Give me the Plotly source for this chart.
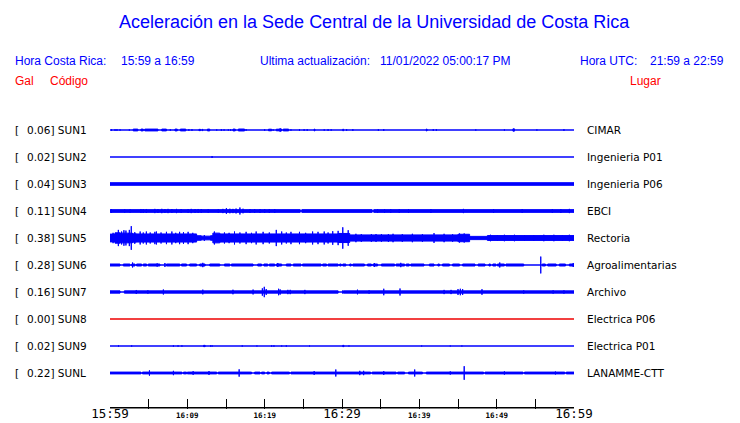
import plotly.graph_objects as go

# ---------------- data ----------------
STATIONS = ["SUN1", "SUN2", "SUN3", "SUN4", "SUN5", "SUN6", "SUN7", "SUN8", "SUN9", "SUNL"]
PEAK_GAL = [0.06, 0.02, 0.04, 0.11, 0.38, 0.28, 0.16, 0.00, 0.02, 0.22]
PLACES = ["CIMAR", "Ingenieria P01", "Ingenieria P06", "EBCI", "Rectoria",
          "Agroalimentarias", "Archivo", "Electrica P06", "Electrica P01", "LANAMME-CTT"]
TICK_MIN = list(range(0, 61, 5))
TICK_LABELS = ["15:59", "", "16:09", "", "16:19", "", "16:29", "", "16:39", "", "16:49", "", "16:59"]
BIG_TICKS = ["15:59", "16:29", "16:59"]

# segments of each trace: (start minute, end minute, half amplitude in gal)
SUN1_SEG = [(0.2, 0.2, .025), (0.65, 0.65, .025), (0.9, 0.9, .025), (1.3, 1.3, .02), (2.5, 2.5, .02),
            (3.0, 3.6, .028), (4.0, 4.3, .028), (4.5, 6.2, .028), (6.7, 7.3, .028), (7.8, 7.8, .025),
            (8.4, 8.7, .028), (9.1, 9.8, .028), (10.2, 10.2, .025), (10.6, 10.6, .025), (11.5, 11.7, .02),
            (11.9, 12.0, .02), (12.6, 12.9, .028), (13.8, 13.8, .02), (14.4, 14.4, .025), (14.75, 14.75, .02),
            (15.3, 15.3, .02), (15.6, 15.6, .025), (15.9, 16.2, .028), (16.6, 17.4, .03), (17.6, 17.6, .025),
            (20.0, 20.0, .025), (20.5, 20.9, .025), (21.1, 21.1, .02), (21.5, 21.9, .025), (22.0, 22.0, .06),
            (22.1, 22.2, .03), (22.4, 23.1, .028), (23.4, 23.4, .02), (24.5, 24.5, .025), (25.1, 25.1, .025),
            (25.5, 25.5, .025), (26.4, 26.5, .028), (27.7, 27.7, .02), (28.2, 28.2, .025), (28.6, 28.6, .02),
            (30.1, 30.2, .025), (30.6, 30.6, .025), (31.4, 31.4, .025), (34.7, 34.7, .025), (35.4, 35.4, .025),
            (40.9, 41.0, .03), (41.8, 41.8, .025), (42.2, 42.2, .025), (47.3, 47.3, .02), (51.0, 51.0, .02),
            (52.1, 52.3, .036), (55.2, 55.2, .02), (58.7, 58.7, .025)]
SUN2_SEG = [(13.2, 13.2, .03)]
SUN3_SEG = [(0, 60, .04)]
SUN4_SEG = [(0, 24.6, .042), (24.8, 33.9, .042), (34.1, 60, .042),
            (0.2, 0.2, .057), (1.9, 1.9, .05), (2.6, 2.6, .05), (4.0, 4.0, .062), (4.3, 4.3, .06),
            (4.7, 4.7, .062), (5.8, 5.8, .065), (6.2, 6.2, .06), (6.7, 6.7, .067), (7.1, 7.1, .06),
            (7.5, 7.5, .065), (8.0, 8.0, .06), (8.6, 8.6, .065), (9.2, 9.2, .06), (10.1, 10.1, .06),
            (10.5, 10.5, .065), (11.0, 11.0, .06), (11.4, 11.4, .062), (11.8, 11.8, .06), (12.7, 12.7, .055),
            (14.0, 14.0, .055), (14.6, 14.6, .065), (15.05, 15.05, .087), (15.5, 15.5, .07), (15.9, 15.9, .065),
            (16.3, 16.3, .075), (16.8, 16.8, .108), (17.2, 17.2, .07), (18.1, 18.1, .06), (18.7, 18.7, .06),
            (19.4, 19.4, .06), (20.0, 20.0, .06), (20.6, 20.6, .06), (21.3, 21.3, .06), (34.6, 34.6, .055),
            (35.5, 35.5, .055), (36.3, 36.3, .055), (37.4, 37.4, .055), (38.6, 38.6, .06), (41.5, 41.5, .06),
            (45.7, 45.7, .065), (49.6, 49.6, .06), (53.3, 53.3, .06), (57.2, 57.2, .06), (58.3, 58.3, .06),
            (59.4, 59.4, .065)]
SUN5_SEG = [(0, 0.65, .12), (0.65, 1.3, .16), (1.3, 2.4, .15), (2.4, 2.9, .15), (2.9, 3.4, .13),
            (3.4, 11.2, .125), (11.2, 11.8, .07), (11.8, 13.0, .057), (13.0, 13.3, .07), (13.3, 14.2, .15),
            (14.2, 29.5, .125), (29.5, 31.0, .14), (31.0, 45.0, .095), (45.0, 46.5, .115), (46.5, 48.8, .05),
            (48.8, 60, .075),
            (0.4, 0.4, .16), (1.08, 1.08, .25), (1.5, 1.5, .2), (1.8, 1.8, .24), (2.06, 2.06, .23),
            (2.5, 2.5, .25), (2.75, 2.75, .365), (3.2, 3.2, .18), (3.9, 3.9, .2), (4.3, 4.3, .17),
            (4.7, 4.7, .2), (5.2, 5.2, .17), (5.8, 5.8, .19), (6.0, 6.0, .2), (6.6, 6.6, .17), (7.3, 7.3, .19),
            (8.0, 8.0, .2), (8.5, 8.5, .16), (9.0, 9.0, .19), (9.5, 9.5, .18), (10.1, 10.1, .19),
            (10.7, 10.7, .16), (12.2, 12.2, .09), (13.5, 13.5, .2), (14.8, 14.8, .17), (15.4, 15.4, .16),
            (16.1, 16.1, .2), (16.8, 16.8, .17), (17.6, 17.6, .19), (18.3, 18.3, .16), (18.9, 18.9, .2),
            (19.8, 19.8, .19), (20.6, 20.6, .17), (21.5, 21.5, .25), (22.2, 22.2, .2), (22.8, 22.8, .17),
            (23.4, 23.4, .19), (24.5, 24.5, .19), (25.3, 25.3, .16), (26.2, 26.2, .2), (26.9, 26.9, .19),
            (27.7, 27.7, .2), (28.2, 28.2, .17), (28.8, 28.8, .21), (29.5, 29.5, .22), (30.1, 30.1, .33),
            (30.8, 30.8, .24), (31.8, 31.8, .13), (32.5, 32.5, .12), (33.8, 33.8, .12), (34.4, 34.4, .12),
            (35.1, 35.1, .12), (36.0, 36.0, .12), (36.6, 36.6, .13), (37.8, 37.8, .12), (39.1, 39.1, .13),
            (40.4, 40.4, .12), (41.9, 41.9, .15), (43.2, 43.2, .13), (44.3, 44.3, .12), (45.2, 45.2, .14),
            (45.8, 45.8, .14), (49.2, 49.2, .10), (50.1, 50.1, .09), (51.0, 51.0, .10), (52.3, 52.3, .10),
            (53.6, 53.6, .09), (54.8, 54.8, .09), (56.1, 56.1, .10), (57.4, 57.4, .10), (58.5, 58.5, .09),
            (59.4, 59.4, .10)]
SUN6_SEG = [(0, 1.29, .031), (1.72, 2.58, .031), (2.8, 3.23, .031), (3.44, 4.09, .031), (4.3, 4.73, .031),
            (4.95, 6.45, .031), (7.3, 9.03, .031), (9.25, 9.9, .031), (10.3, 11.2, .031), (11.6, 12.3, .031),
            (12.9, 14.2, .031), (14.8, 15.5, .031), (15.7, 18.5, .031), (19.1, 19.6, .031), (19.9, 20.4, .031),
            (20.6, 21.3, .031), (21.5, 22.2, .031), (22.8, 23.4, .031), (23.7, 24.7, .031), (24.9, 27.3, .031),
            (27.5, 28.0, .031), (28.2, 29.5, .031), (29.7, 29.9, .031), (30.1, 30.5, .031), (31.0, 31.2, .031),
            (31.4, 32.9, .031), (33.3, 33.8, .031), (34.0, 34.6, .031), (35.1, 36.8, .031), (37.0, 38.1, .031),
            (38.3, 38.7, .031), (38.9, 40.6, .031), (41.3, 41.9, .031), (42.4, 42.6, .031), (43.0, 43.9, .031),
            (44.3, 45.2, .031), (45.6, 47.2, .031), (47.6, 48.5, .031), (49.0, 49.2, .031), (49.5, 49.9, .031),
            (50.1, 51.0, .031), (51.2, 53.5, .031), (55.9, 56.3, .031), (56.6, 57.7, .031), (58.1, 58.9, .031),
            (59.4, 60, .031),
            (2.92, 2.92, .077), (6.1, 6.1, .05), (7.1, 7.1, .062), (12.0, 12.0, .067), (21.7, 21.7, .062),
            (34.2, 34.2, .057), (37.6, 37.6, .067), (50.4, 50.4, .077), (55.7, 55.7, .26), (59.9, 59.9, .062)]
SUN7_SEG = [(0, 1.3, .035), (1.85, 29.5, .035), (30.2, 60, .035),
            (3.4, 3.4, .062), (4.9, 4.9, .05), (6.9, 6.9, .077), (12.0, 12.0, .072), (15.9, 15.9, .07),
            (18.5, 18.5, .075), (19.7, 19.7, .113), (19.95, 19.95, .16), (20.2, 20.2, .09), (21.8, 21.8, .10),
            (22.0, 22.0, .08), (23.0, 23.0, .067), (23.3, 23.3, .067), (25.2, 25.2, .065), (30.1, 30.1, .05),
            (32.0, 32.0, .072), (33.5, 33.5, .05), (35.4, 35.4, .10), (37.5, 37.5, .108), (43.2, 43.2, .065),
            (44.1, 44.1, .065), (45.0, 45.0, .09), (45.3, 45.3, .10), (45.6, 45.6, .09), (48.1, 48.1, .086),
            (53.5, 53.5, .05), (57.3, 57.3, .05), (58.7, 58.7, .05)]
SUN8_SEG = []
SUN9_SEG = [(1.1, 1.1, .02), (2.8, 2.8, .02), (8.2, 8.2, .02), (8.8, 8.8, .02), (9.3, 9.3, .02),
            (12.1, 12.3, .02), (13.0, 13.0, .02), (13.2, 13.2, .02), (17.1, 17.1, .02), (19.0, 19.0, .015),
            (20.9, 20.9, .02), (21.2, 21.2, .02), (22.2, 22.2, .015), (22.8, 22.8, .02), (25.8, 25.8, .015),
            (30.1, 30.25, .02), (30.9, 30.9, .015), (40.3, 40.3, .015), (44.0, 44.0, .015), (45.5, 45.5, .015)]
SUNL_SEG = [(0, 4.0, .028), (4.2, 9.3, .028), (9.5, 9.9, .028), (10.0, 13.8, .028), (14.0, 18.3, .028),
            (18.7, 19.4, .028), (19.6, 20.0, .028), (20.3, 20.6, .028), (20.9, 23.2, .028), (23.4, 33.7, .028),
            (33.9, 37.0, .028), (37.2, 38.1, .028), (38.6, 40.4, .028), (40.9, 48.3, .028), (48.5, 53.4, .028),
            (53.6, 58.8, .028), (59.0, 60, .028),
            (5.1, 5.1, .082), (8.2, 8.2, .067), (10.75, 10.75, .057), (12.8, 12.8, .06), (16.7, 16.7, .113),
            (26.4, 26.4, .057), (29.2, 29.2, .108), (32.3, 32.3, .067), (32.8, 32.8, .067), (35.4, 35.4, .057),
            (39.4, 39.4, .108), (44.0, 44.0, .05), (45.8, 45.8, .21), (51.0, 51.0, .05), (57.6, 57.6, .045)]
SEGMENTS = [SUN1_SEG, SUN2_SEG, SUN3_SEG, SUN4_SEG, SUN5_SEG, SUN6_SEG, SUN7_SEG, SUN8_SEG, SUN9_SEG, SUNL_SEG]

# ---------------- style ----------------
GAIN = 1.2          # rows per gal
BLUE = "#0000ff"
RED = "#ee0000"
W, H = 740, 423
ML, MR, MT, MB = 110, 166, 110, 14
PW, PH = W - ML - MR, H - MT - MB
N = len(STATIONS)
DX = -2             # annotation box padding compensation
Y_AXIS = -1 / 3     # bottom of the row scale


def px(x):
    return (x + DX - ML) / PW


def py(y):
    return (H - MB - y) / PH


fig = go.Figure()
for i, (name, segs) in enumerate(zip(STATIONS, SEGMENTS)):
    row = N - i
    col = RED if PEAK_GAL[i] == 0 else BLUE
    fig.add_trace(go.Scatter(x=[0, 60], y=[row, row], mode="lines",
                             line=dict(color=col, width=1.3), hoverinfo="skip", showlegend=False))
    xs, ys = [], []
    for t0, t1, a in segs:
        lo, hi = row - a * GAIN, row + a * GAIN
        xs += [t0, t1, t1, t0, t0, None]
        ys += [lo, lo, hi, hi, lo, None]
    if xs:
        fig.add_trace(go.Scatter(x=xs, y=ys, mode="lines", fill="toself", fillcolor=col,
                                 line=dict(color=col, width=1), hoverinfo="skip", showlegend=False))

# time axis line, drawn just inside the plot area
fig.add_trace(go.Scatter(x=[0, 60], y=[Y_AXIS + 1.2 / 27, Y_AXIS + 1.2 / 27], mode="lines",
                         cliponaxis=True, line=dict(color="black", width=1.4),
                         hoverinfo="skip", showlegend=False))

ticktext = []
for lab in TICK_LABELS:
    if lab in BIG_TICKS:
        ticktext.append('<span style="font-size:12.5px">%s</span>' % lab)
    elif lab:
        ticktext.append('<span style="font-size:7.5px;font-weight:bold">%s</span>' % lab)
    else:
        ticktext.append(lab)

ann = []
LBL_FONT = dict(family="DejaVu Sans", size=10.5, color="black")
for i, name in enumerate(STATIONS):
    row = N - i
    ann.append(dict(x=px(15), y=row, xref="paper", yref="y", text="[", showarrow=False,
                    xanchor="left", yanchor="middle", font=LBL_FONT))
    ann.append(dict(x=px(27), y=row, xref="paper", yref="y", text="%.2f] %s" % (PEAK_GAL[i], name),
                    showarrow=False, xanchor="left", yanchor="middle", font=LBL_FONT))
    ann.append(dict(x=px(587), y=row, xref="paper", yref="y", text=PLACES[i], showarrow=False,
                    xanchor="left", yanchor="middle", font=LBL_FONT))

HDR = "Liberation Sans"
header = [
    ("Hora Costa Rica:", 15, 61, "#0000ff"), ("15:59 a 16:59", 121, 61, "#0000ff"),
    ("Ultima actualización:", 260, 61, "#0000ff"), ("11/01/2022 05:00:17 PM", 380, 61, "#0000ff"),
    ("Hora UTC:", 580, 61, "#0000ff"), ("21:59 a 22:59", 650, 61, "#0000ff"),
    ("Gal", 15, 81, "#ff0000"), ("Código", 50, 81, "#ff0000"), ("Lugar", 630, 81, "#ff0000"),
]
for txt, x, y, c in header:
    ann.append(dict(x=px(x), y=py(y), xref="paper", yref="paper", text=txt, showarrow=False,
                    xanchor="left", yanchor="middle", font=dict(family=HDR, size=12, color=c)))
ann.append(dict(x=(374.5 - ML) / PW, y=py(22), xref="paper", yref="paper",
                text="Aceleración en la Sede Central de la Universidad de Costa Rica",
                showarrow=False, xanchor="center", yanchor="middle",
                font=dict(family=HDR, size=18, color="#0000ff")))

fig.update_layout(
    width=W, height=H, autosize=False,
    margin=dict(l=ML, r=MR, t=MT, b=MB),
    paper_bgcolor="white", plot_bgcolor="white",
    showlegend=False,
    annotations=ann,
    xaxis=dict(range=[0, 60], tickvals=TICK_MIN, ticktext=ticktext, ticks="inside", ticklen=10,
               tickwidth=1, tickcolor="black", showline=False,
               showgrid=False, zeroline=False, automargin=False, fixedrange=True,
               ticklabelstandoff=-1,
               tickfont=dict(family="DejaVu Sans Mono", size=9, color="black")),
    yaxis=dict(range=[Y_AXIS, 10 + 20 / 27], visible=False, fixedrange=True),
)

fig.write_html("out.html", config={"displayModeBar": False},
               post_script="document.body.style.margin='0';document.body.style.overflow='hidden';")
